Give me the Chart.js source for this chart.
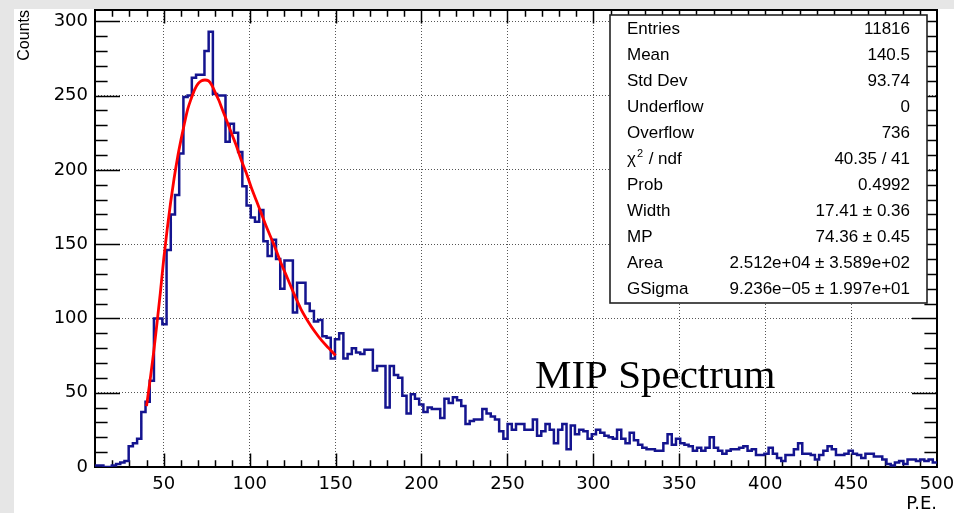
<!DOCTYPE html>
<html>
<head>
<meta charset="utf-8">
<title>MIP Spectrum</title>
<script src="https://cdn.jsdelivr.net/npm/chart.js@4.4.0/dist/chart.umd.min.js"></script>
<style>
  html, body { margin: 0; padding: 0; background: #e6e6e6; }
  #mipChart { display: block; }
</style>
</head>
<body>
<canvas id="mipChart" width="954" height="513"></canvas>
<script>
// histogram range (P.E.) and bin contents, 200 bins
const xMin = 10;
const xMax = 500;
const binCounts = [
    1, 1, 0, 0, 1, 2, 3, 4, 14, 16, 19, 37, 44, 58, 100, 100, 96, 146, 170, 183,
    211, 249, 250, 262, 264, 264, 280, 293, 251, 250, 250, 219, 231, 225, 212, 189, 176, 168, 165, 173,
    152, 142, 153, 140, 120, 139, 139, 104, 124, 124, 110, 105, 98, 99, 88, 87, 73, 86, 90, 73,
    76, 80, 77, 76, 79, 79, 65, 68, 68, 40, 68, 62, 60, 48, 36, 49, 46, 42, 37, 40,
    39, 39, 33, 46, 43, 47, 45, 41, 29, 31, 32, 32, 39, 36, 34, 32, 24, 19, 29, 25,
    29, 29, 25, 25, 32, 21, 24, 29, 25, 16, 25, 29, 12, 28, 22, 25, 24, 19, 22, 25,
    23, 21, 20, 19, 25, 19, 16, 23, 18, 15, 13, 12, 12, 11, 11, 16, 22, 15, 19, 16,
    15, 14, 11, 13, 11, 13, 20, 13, 11, 9, 11, 12, 12, 13, 14, 11, 12, 8, 8, 9,
    13, 9, 6, 4, 8, 8, 12, 16, 9, 9, 8, 5, 8, 11, 14, 12, 8, 8, 9, 11,
    9, 8, 6, 9, 9, 7, 7, 5, 2, 1, 3, 4, 2, 5, 5, 4, 5, 4, 5, 3
];

// Landau fit curve
const fitX = [40, 42, 44, 46, 48, 50, 52, 54, 56, 58, 60, 62, 64, 66, 68, 70, 72, 74, 76, 78,
    80, 82, 84, 86, 88, 90, 92, 95, 98, 101, 104, 107, 110, 114, 118, 122, 126, 130, 134, 138, 142, 146, 150];
const fitY = [41, 58, 76, 96, 117, 140, 160, 178, 194, 208, 220, 231, 241, 248, 254, 258, 260, 260.5, 260, 257,
    252, 247, 241, 235, 229, 223, 217, 207, 198, 188, 179, 170, 161, 150, 138, 127, 116, 106, 98, 91, 85, 80, 75];

// axis ticks
const xTicks = [50, 100, 150, 200, 250, 300, 350, 400, 450, 500];
const yTicks = [0, 50, 100, 150, 200, 250, 300];
const yMax = 307.6;
const minorStep = 10;

// stats box
const statNames = ['Entries', 'Mean', 'Std Dev', 'Underflow', 'Overflow', 'χ2 / ndf', 'Prob', 'Width', 'MP', 'Area', 'GSigma'];
const statValues = ['11816', '140.5', '93.74', '0', '736', '40.35 / 41', '0.4992', '17.41 ± 0.36', '74.36 ± 0.45',
    '2.512e+04 ± 3.589e+02', '9.236e\u221205 ± 1.997e+01'];

const binWidth = (xMax - xMin) / binCounts.length;
const histPoints = binCounts.map((c, i) => ({ x: xMin + i * binWidth, y: c }));
histPoints.push({ x: xMax, y: binCounts[binCounts.length - 1] });
const fitPoints = fitX.map((x, i) => ({ x: x, y: fitY[i] }));

// gray canvas edge, frame with inward ticks, stats box and label
const rootStyle = {
    id: 'rootStyle',
    beforeDraw(chart) {
        const ctx = chart.ctx;
        ctx.save();
        ctx.fillStyle = '#e6e6e6';
        ctx.fillRect(0, 0, chart.width, chart.height);
        ctx.fillStyle = '#ffffff';
        ctx.fillRect(14, 9, chart.width - 14, chart.height - 9);
        ctx.restore();
    },
    beforeDatasetsDraw(chart) {
        const { ctx, chartArea: a, scales: { x, y } } = chart;
        ctx.save();
        ctx.strokeStyle = '#000';
        ctx.lineWidth = 1.5;
        ctx.beginPath();
        for (let v = 20; v < xMax; v += minorStep) {
            const px = Math.round(x.getPixelForValue(v)) + 0.5;
            const len = v % 50 === 0 ? 13.5 : 6.7;
            ctx.moveTo(px, a.bottom); ctx.lineTo(px, a.bottom - len);
            ctx.moveTo(px, a.top); ctx.lineTo(px, a.top + len);
        }
        for (let v = minorStep; v < yMax; v += minorStep) {
            const py = Math.round(y.getPixelForValue(v)) + 0.5;
            const len = v % 50 === 0 ? 25 : 12.6;
            ctx.moveTo(a.left, py); ctx.lineTo(a.left + len, py);
            ctx.moveTo(a.right, py); ctx.lineTo(a.right - len, py);
        }
        ctx.stroke();
        ctx.lineWidth = 2;
        ctx.strokeRect(a.left, a.top, a.right - a.left, a.bottom - a.top);
        ctx.restore();
    },
    afterDatasetsDraw(chart) {
        const ctx = chart.ctx;
        const box = { left: 610, top: 15, right: 927, bottom: 303 };
        ctx.save();
        ctx.fillStyle = '#ffffff';
        ctx.fillRect(box.left, box.top, box.right - box.left, box.bottom - box.top);
        ctx.strokeStyle = '#222';
        ctx.lineWidth = 1.6;
        ctx.strokeRect(box.left, box.top, box.right - box.left, box.bottom - box.top);

        ctx.fillStyle = '#000';
        ctx.textBaseline = 'middle';
        ctx.font = '17px "Liberation Sans", Arial, sans-serif';
        statNames.forEach((name, i) => {
            const cy = 29.5 + 26 * i;
            ctx.textAlign = 'left';
            if (name.startsWith('χ2')) {
                ctx.fillText('χ', 627, cy);
                const w = ctx.measureText('χ').width;
                ctx.font = '11px "Liberation Sans", Arial, sans-serif';
                ctx.fillText('2', 627 + w + 1, cy - 6);
                ctx.font = '17px "Liberation Sans", Arial, sans-serif';
                ctx.fillText(' / ndf', 627 + w + 8, cy);
            } else {
                ctx.fillText(name, 627, cy);
            }
            ctx.textAlign = 'right';
            ctx.fillText(statValues[i], 910, cy);
        });

        ctx.textAlign = 'left';
        ctx.textBaseline = 'alphabetic';
        ctx.font = '41px "Liberation Serif", "Times New Roman", serif';
        ctx.fillText('MIP Spectrum', 535, 388);
        ctx.restore();
    }
};

const ctx = document.getElementById('mipChart').getContext('2d');
const mipChart = new Chart(ctx, {
    type: 'line',
    data: {
        datasets: [{
            label: 'MIP',
            data: histPoints,
            stepped: 'before',
            borderColor: '#14148f',
            borderWidth: 2.5,
            pointRadius: 0,
            fill: false,
            order: 2
        }, {
            label: 'Fit',
            data: fitPoints,
            borderColor: '#ff0000',
            borderWidth: 2.8,
            pointRadius: 0,
            tension: 0.4,
            cubicInterpolationMode: 'monotone',
            fill: false,
            order: 1
        }]
    },
    options: {
        responsive: false,
        animation: false,
        layout: { padding: { top: 10, right: 17, left: 0, bottom: 0 } },
        plugins: { legend: { display: false }, tooltip: { enabled: false } },
        scales: {
            x: {
                type: 'linear',
                min: xMin,
                max: xMax,
                afterBuildTicks: scale => { scale.ticks = xTicks.map(v => ({ value: v })); },
                afterFit: scale => {
                    scale.height = 46;
                    scale.paddingLeft = 0;
                    scale.paddingRight = 0;
                },
                grid: { color: '#555', lineWidth: 1, drawTicks: false },
                border: { display: false, dash: [1, 2] },
                ticks: {
                    autoSkip: false,
                    maxRotation: 0,
                    padding: 8,
                    color: '#000',
                    font: { family: '"DejaVu Sans", sans-serif', size: 18, lineHeight: 1 }
                },
                title: {
                    display: true,
                    text: 'P.E.',
                    align: 'end',
                    color: '#000',
                    padding: 0,
                    font: { family: '"DejaVu Sans", sans-serif', size: 18, lineHeight: 1 }
                }
            },
            y: {
                min: 0,
                max: yMax,
                afterBuildTicks: scale => { scale.ticks = yTicks.map(v => ({ value: v })); },
                afterFit: scale => {
                    scale.width = 95;
                    scale.paddingTop = 0;
                    scale.paddingBottom = 0;
                },
                grid: { color: '#555', lineWidth: 1, drawTicks: false },
                border: { display: false, dash: [1, 2] },
                ticks: {
                    padding: 7,
                    color: '#000',
                    font: { family: '"DejaVu Sans", sans-serif', size: 18, lineHeight: 1 }
                },
                title: {
                    display: true,
                    text: 'Counts',
                    align: 'end',
                    color: '#000',
                    padding: { top: 15, bottom: 0 },
                    font: { family: '"Liberation Sans", Arial, sans-serif', size: 16 }
                }
            }
        }
    },
    plugins: [rootStyle]
});
</script>
</body>
</html>
